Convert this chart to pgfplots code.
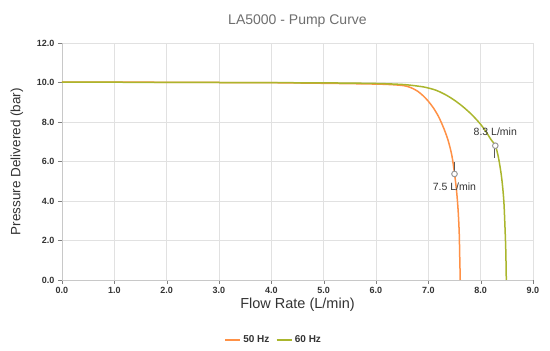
\documentclass[border=0pt]{standalone}
\usepackage{pgfplots}
\pgfplotsset{compat=1.18}
\usepackage{fontspec}
\setmainfont{Liberation Sans}
\definecolor{c50}{RGB}{255,145,70}
\definecolor{c60}{RGB}{170,182,45}
\definecolor{gridc}{RGB}{225,225,225}
\definecolor{axc}{RGB}{200,200,200}
\definecolor{tickc}{RGB}{51,51,51}
\definecolor{titc}{RGB}{110,110,110}
\begin{document}
\begin{tikzpicture}
\begin{axis}[
  at={(0pt,0pt)}, anchor=south west,
  scale only axis, width=471pt, height=237pt,
  xmin=0, xmax=9, ymin=0, ymax=12,
  xtick={0,1,...,9}, ytick={0,2,...,12},
  xticklabel style={/pgf/number format/.cd,fixed,fixed zerofill,precision=1},
  yticklabel style={/pgf/number format/.cd,fixed,fixed zerofill,precision=1},
  /pgf/number format/assume math mode=true,
  ticklabel style={font=\fontsize{9}{10}\selectfont\bfseries, text=tickc},
  axis line style={axc, line width=0.9pt},
  axis x line*=bottom, axis y line*=left,
  major tick length=4pt,
  tick align=outside,
  xtick pos=bottom, ytick pos=left,
  xmajorgrids=true, ymajorgrids=true,
  grid style={draw=gridc, line width=0.8pt},
  major grid style={draw=gridc, line width=0.8pt},
  xlabel={Flow Rate (L/min)}, ylabel={Pressure Delivered (bar)},
  xlabel style={font=\fontsize{14.5}{16}\selectfont, text=tickc, yshift=3pt},
  ylabel style={font=\fontsize{13.5}{15}\selectfont, text=tickc, yshift=7pt},
  title={LA5000 - Pump Curve},
  title style={font=\fontsize{14}{16}\selectfont, text=titc, yshift=6pt},
  legend style={at={(0.449,-0.253)}, anchor=center, draw=none, fill=none,
    legend columns=2, font=\fontsize{10}{11}\selectfont\bfseries, text=tickc,
    /tikz/every even column/.append style={column sep=4pt}},
  legend image code/.code={\draw[#1, line width=2.4pt] (0pt,0pt) -- (15pt,0pt);},
  clip=false,
]
\addplot[c50, line width=1.5pt, smooth, tension=0.5] coordinates {
(0,10.02) (1,10.02) (2,10.01) (3,10.0) (4,9.99) (5,9.96) (6,9.92) (6.3,9.89) (6.5,9.85)
(6.6,9.8) (6.7,9.7) (6.8,9.55) (6.9,9.33) (7.0,9.05) (7.1,8.7) (7.2,8.25) (7.3,7.65)
(7.38,7.05) (7.45,6.3) (7.5,5.4) (7.54,4.5) (7.57,3.5) (7.59,2.4) (7.6,1.2) (7.61,0)
};
\addlegendentry{50 Hz}
\addplot[c60, line width=1.5pt, smooth, tension=0.5] coordinates {
(0,10.02) (3,10.0) (5,9.98) (6,9.95) (6.5,9.9) (6.7,9.85) (6.9,9.78) (7.0,9.72) (7.1,9.65)
(7.2,9.55) (7.35,9.35) (7.5,9.1) (7.65,8.8) (7.8,8.45) (7.9,8.18) (8.0,7.88) (8.1,7.52)
(8.2,7.1) (8.28,6.8) (8.34,6.2) (8.4,5.2) (8.44,4.1) (8.46,3.0) (8.48,1.5) (8.49,0)
};
\addlegendentry{60 Hz}
% annotation pins
\addplot[gray!70!black, line width=1pt, forget plot] coordinates {(7.5,5.97) (7.5,5.5)};
\addplot[gray!70!black, line width=1pt, forget plot] coordinates {(8.26,6.7) (8.26,6.18)};
\addplot[only marks, mark=*, mark size=2.8pt, mark options={fill=white, draw=gray!80, line width=1pt}, forget plot]
  coordinates {(7.5,5.37) (8.28,6.8)};
\addplot[only marks, mark=none, forget plot,
  nodes near coords, point meta=explicit symbolic,
  nodes near coords style={font=\fontsize{10.5}{12}\selectfont, text=tickc, anchor=center}]
  coordinates {(7.5,4.71) [7.5 L/min]};
\addplot[only marks, mark=none, forget plot,
  nodes near coords, point meta=explicit symbolic,
  nodes near coords style={font=\fontsize{10.5}{12}\selectfont, text=tickc, anchor=center}]
  coordinates {(8.28,7.49) [8.3 L/min]};
\end{axis}
\useasboundingbox (-62pt,-71pt) rectangle (488pt,280pt);
\end{tikzpicture}
\end{document}
